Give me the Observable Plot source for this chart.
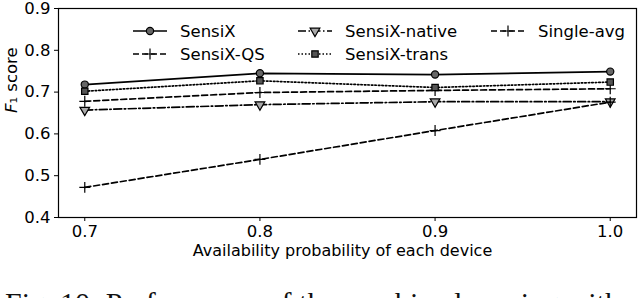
<!DOCTYPE html>
<html>
<head>
<meta charset="utf-8">
<script src="https://cdn.jsdelivr.net/npm/d3@7"></script>
<script src="https://cdn.jsdelivr.net/npm/@observablehq/plot@0.6"></script>
<style>
  html, body { margin: 0; padding: 0; background: white; }
  body { position: relative; width: 640px; height: 298px; overflow: hidden; }
  #chart { position: absolute; left: 0; top: 0; }
  #caption { position: absolute; left: 5px; top: 288px; font-family: "Liberation Serif", serif; font-size: 30px; line-height: 30px; white-space: nowrap; color: #111; }
</style>
</head>
<body>
<div id="chart"></div>
<div id="caption">Fig. 10: Performance of the combined sensing with variable device availability.</div>
<script>
const probs = [0.7, 0.8, 0.9, 1.0];
const seriesNames = ["SensiX", "SensiX-QS", "SensiX-native", "SensiX-trans", "Single-avg"];
const sensix = [0.718, 0.745, 0.742, 0.749];
const sensixQS = [0.678, 0.699, 0.704, 0.708];
const sensixNative = [0.657, 0.670, 0.677, 0.677];
const sensixTrans = [0.702, 0.727, 0.711, 0.724];
const singleAvg = [0.472, 0.539, 0.608, 0.676];
const xTicks = [0.7, 0.8, 0.9, 1.0];
const yTicks = [0.4, 0.5, 0.6, 0.7, 0.8, 0.9];
const xLabel = "Availability probability of each device";
const yLabel = "F\u2081 score";

const valuesBySeries = [sensix, sensixQS, sensixNative, sensixTrans, singleAvg];
const styles = {
  "SensiX":        {dash: null,           symbol: "circle",   fill: "#666", rotate: 0},
  "SensiX-QS":     {dash: "6,3",          symbol: "plus",     fill: "none", rotate: 0},
  "SensiX-native": {dash: "8,2.5,1.5,2.5",symbol: "triangle", fill: "#aaa", rotate: 180},
  "SensiX-trans":  {dash: "1.5,2",        symbol: "square",   fill: "#555", rotate: 0},
  "Single-avg":    {dash: "6,3",          symbol: "plus",     fill: "none", rotate: 0}
};

const data = [];
seriesNames.forEach((name, i) => {
  probs.forEach((p, j) => data.push({series: name, p, v: valuesBySeries[i][j]}));
});

const marks = [];
seriesNames.forEach(name => {
  const s = styles[name];
  const d = data.filter(r => r.series === name);
  marks.push(Plot.line(d, {x: "p", y: "v", stroke: "black", strokeWidth: 1.7, strokeDasharray: s.dash ?? undefined}));
  marks.push(Plot.dot(d, {x: "p", y: "v", symbol: () => s.symbol, r: 3.6, stroke: "black", strokeWidth: 1.2,
    fill: s.symbol === "plus" ? "none" : s.fill, rotate: s.rotate}));
});

const plot = Plot.plot({
  width: 640,
  height: 270,
  marginLeft: 58,
  marginRight: 4,
  marginTop: 8,
  marginBottom: 53,
  style: {fontFamily: "DejaVu Sans", fontSize: "16.5px", color: "black", background: "white", overflow: "visible"},
  x: {domain: [0.685, 1.015], ticks: xTicks, tickFormat: d => d.toFixed(1), label: null, tickSize: 4, tickPadding: 4},
  y: {domain: [0.4, 0.9], ticks: yTicks, tickFormat: d => d.toFixed(1), label: null, tickSize: 4, tickPadding: 4},
  symbol: {type: "identity"},
  marks: [
    ...marks,
    Plot.frame({stroke: "black", strokeWidth: 1.2}),
    Plot.text([xLabel], {text: d => d, frameAnchor: "bottom", dy: 38, dx: -5, fontSize: 16}),
    Plot.text([yLabel], {text: d => d, frameAnchor: "left", dx: -47, rotate: -90, fontSize: 16.5})
  ]
});

document.getElementById("chart").appendChild(plot);

// italic F in the y label
d3.select(plot).selectAll("text").filter(function() { return this.textContent === yLabel; })
  .each(function() {
    const t = d3.select(this);
    t.text(null);
    t.append("tspan").attr("font-style", "italic").text("F");
    t.append("tspan").text("\u2081 score");
  });

// legend
const legendRows = [
  ["SensiX", "SensiX-native", "Single-avg"],
  ["SensiX-QS", "SensiX-trans"]
];
const colX = [133, 298, 491];
const rowY = [31, 54];
const symMap = {circle: d3.symbolCircle, square: d3.symbolSquare, triangle: d3.symbolTriangle, plus: d3.symbolPlus};
const svg = d3.select(plot);
const lg = svg.append("g").attr("font-family", "DejaVu Sans").attr("font-size", 16.5).attr("text-anchor", "start");
legendRows.forEach((row, ri) => {
  row.forEach((name, ci) => {
    const s = styles[name];
    const x0 = colX[ci], y0 = rowY[ri];
    const g = lg.append("g");
    g.append("line").attr("x1", x0).attr("x2", x0 + 34).attr("y1", y0).attr("y2", y0)
      .attr("stroke", "black").attr("stroke-width", 1.7).attr("stroke-dasharray", s.dash);
    const sym = d3.symbol(symMap[s.symbol], 3.6 * 3.6 * Math.PI)();
    g.append("path").attr("d", sym)
      .attr("transform", `translate(${x0 + 17},${y0}) rotate(${s.rotate})`)
      .attr("fill", s.symbol === "plus" ? "none" : s.fill).attr("stroke", "black").attr("stroke-width", 1.2);
    g.append("text").attr("x", x0 + 47).attr("y", y0).attr("dy", "0.35em").attr("text-anchor", "start")
      .attr("fill", "black").text(name);
  });
});
</script>
</body>
</html>
